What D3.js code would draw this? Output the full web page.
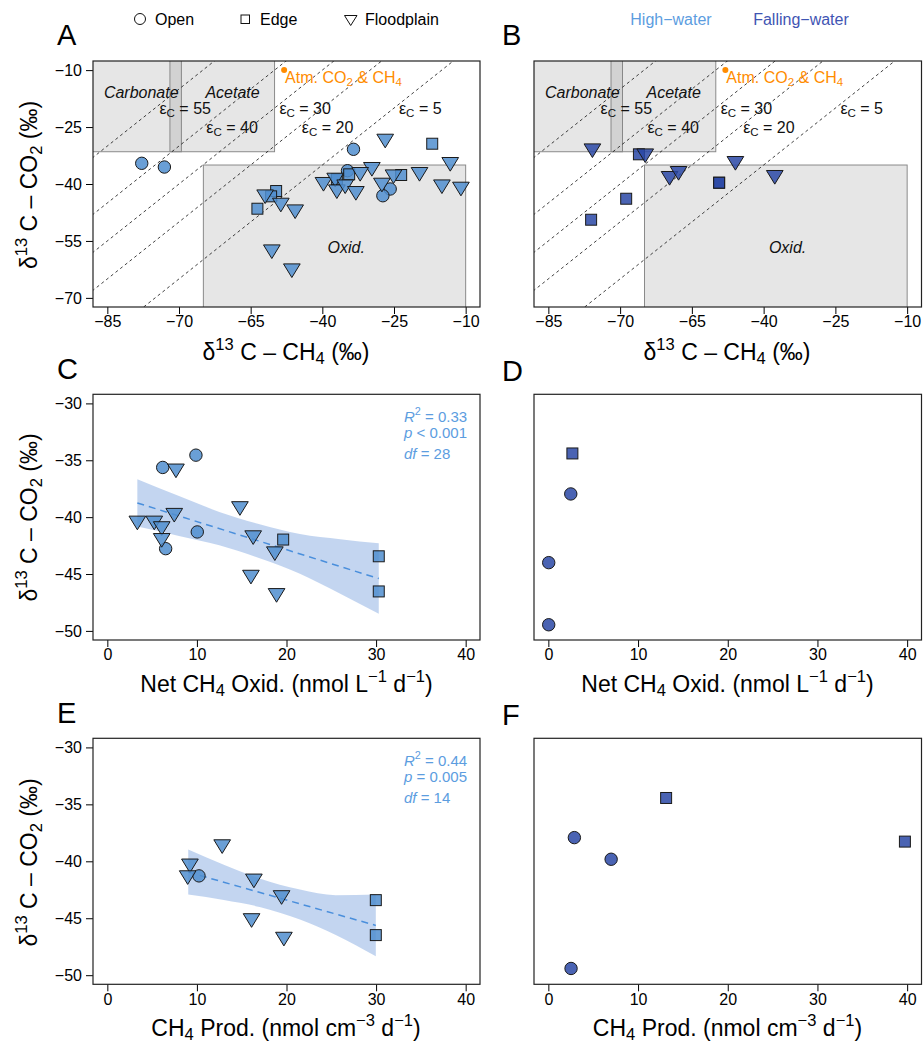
<!DOCTYPE html>
<html>
<head>
<meta charset="utf-8">
<script src="https://cdn.jsdelivr.net/npm/d3@7"></script>
<style>
  body { margin: 0; background: #fff; }
  svg { font-family: "Liberation Sans", Arial, Helvetica, sans-serif; }
</style>
</head>
<body>
<div id="chart"></div>
<script>
// ---- data ----
const isoXTicks = [-85, -70, -55, -40, -25, -10];
const isoXLabels = ['−85', '−70', '−65', '−40', '−25', '−10'];
const isoYTicks = [-10, -25, -40, -55, -70];
const rateXTicks = [0, 10, 20, 30, 40];
const co2YTicks = [-30, -35, -40, -45, -50];

// panel A (high-water), [δ13C-CH4, δ13C-CO2]
const aOpen = [[-77.8, -34.55], [-73.06, -35.53], [-33.48, -30.86], [-34.74, -36.5], [-25.8, -41.32], [-27.33, -43.09]];
const aEdge = [[-17.0, -29.39], [-23.5, -37.63], [-34.38, -37.45], [-36.96, -38.77], [-49.67, -41.85], [-50.72, -43.25], [-53.59, -46.51]];
const aFlood = [[-26.84, -28.68], [-13.23, -34.82], [-29.63, -36.13], [-32.08, -37.45], [-25.1, -38.08], [-19.66, -37.45],
  [-14.97, -40.72], [-10.99, -41.32], [-27.53, -40.27], [-39.76, -40.08], [-37.31, -38.95], [-36.96, -42.03],
  [-35.22, -40.72], [-32.98, -42.46], [-51.97, -43.35], [-48.69, -45.54], [-45.69, -47.3], [-50.57, -57.84], [-46.38, -62.84]];
// panel B (falling-water)
const bEdge = [[-66.07, -32.18], [-49.3, -39.66], [-49.3, -39.66], [-68.73, -43.88], [-76.06, -49.41]];
const bFlood = [[-75.79, -31.23], [-64.75, -32.55], [-59.66, -38.5], [-57.78, -37.19], [-45.9, -34.55], [-37.67, -38.24]];
// panel C / D, [net CH4 oxidation, δ13C-CO2]
const cOpen = [[6.18, -35.63], [9.89, -34.55], [10.04, -41.3], [6.51, -42.77]];
const cEdge = [[19.63, -41.97], [30.3, -43.44], [30.3, -46.53]];
const cFlood = [[3.35, -40.51], [5.24, -40.51], [6.07, -41.0], [6.07, -42.04], [7.66, -35.93], [7.47, -39.83],
  [14.8, -39.24], [16.28, -41.8], [18.7, -43.21], [16.03, -45.27], [18.89, -46.88]];
const dOpen = [[2.5, -37.96], [0.04, -44.0], [0.04, -49.46]];
const dEdge = [[2.68, -34.4]];
// panel E / F, [CH4 production, δ13C-CO2]
const eOpen = [[10.23, -41.28]];
const eEdge = [[29.97, -43.41], [29.97, -46.48]];
const eFlood = [[9.22, -40.4], [8.97, -41.43], [12.82, -38.71], [16.36, -41.72], [19.45, -43.18], [16.1, -45.2], [19.71, -46.83]];
const fOpen = [[2.9, -37.92], [7.0, -39.82], [2.53, -49.41]];
const fEdge = [[13.13, -34.44], [39.75, -38.27]];

// regression fits and confidence bands
const cFit = [[3.35, -38.75], [30.3, -45.4]];
const cBandX = [3.35, 8, 12.5, 17, 21.5, 26, 30.3];
const cBandHi = [-36.67, -38.15, -39.54, -40.62, -41.48, -41.94, -42.3];
const cBandLo = [-40.83, -41.65, -42.48, -43.62, -44.98, -46.74, -48.5];
const eFit = [[9.03, -40.95], [29.97, -45.63]];
const eBandX = [9.03, 13, 17, 21.5, 25.5, 29.97];
const eBandHi = [-38.97, -40.3, -41.51, -42.48, -42.97, -42.92];
const eBandLo = [-42.92, -43.4, -44.01, -45.11, -46.47, -48.33];
const cStats = ['0.33', '< 0.001', '28'];
const eStats = ['0.44', '= 0.005', '14'];

// isotope reference regions [xmin, xmax, ymin, ymax]
const carbBox = [-95, -69.5, -31.5, 0];
const acetBox = [-71.9, -50.0, -31.5, 0];
const oxidBox = [-64.9, -10, -80, -35];
const regionLabels = [['Carbonate', -77.9, -15.8], ['Acetate', -58.8, -15.8], ['Oxid.', -35, -56.6]];
const epsVals = [55, 40, 30, 20, 5];
const epsLabX = [-68.7, -58.9, -43.6, -38.9, -19.5];
const epsLabY = [-20, -25, -20, -25, -20];
const atm = [-48, -10];

// ---- styling ----
const HIGH = '#508ecf', FALL = '#2a48a6';
const HIGH_TXT = '#5c9ddf', FALL_TXT = '#3f55b3';
const colL = { x0: 93, x1: 480 }, colR = { x0: 534, x1: 921.5 };
const rowA = { y0: 61, y1: 307 }, rowC = { y0: 394.3, y1: 640 }, rowE = { y0: 738.3, y1: 984.3 };
const isoX = [-88, -7], isoY = [-72.4, -7.6], rateX = [-1.6, 41.6], co2Y = [-50.8, -29.2];
const R = 6.2;
const TITLE = 23;

const svg = d3.select('#chart').append('svg')
  .attr('width', 923)
  .attr('height', 1043);

let clipN = 0;

// text with super/subscripts: parts = [[text, kind, italic]]
const rich = (sel, parts, size) => {
  let cur = 0;
  parts.forEach(([t, k, it]) => {
    const off = k === 'sup' ? -0.42 * size : k === 'sub' ? 0.2 * size : 0;
    const ts = sel.append('tspan').text(t);
    if (off !== cur) ts.attr('dy', off - cur);
    cur = off;
    if (k === 'sup' || k === 'sub') ts.attr('font-size', size * 0.72);
    if (it) ts.attr('font-style', 'italic');
  });
  return sel;
};

const panel = (col, row, xd, yd, xt, xl, yt) => {
  const x = d3.scaleLinear().domain(xd).range([col.x0, col.x1]);
  const y = d3.scaleLinear().domain(yd).range([row.y1, row.y0]);
  const g = svg.append('g');
  const id = 'clip' + (clipN++);
  g.append('clipPath').attr('id', id).append('rect')
    .attr('x', col.x0).attr('y', row.y0)
    .attr('width', col.x1 - col.x0).attr('height', row.y1 - row.y0);
  const inner = g.append('g').attr('clip-path', `url(#${id})`);

  const xa = g.append('g')
    .attr('transform', `translate(0,${row.y1})`)
    .call(d3.axisBottom(x).tickValues(xt).tickFormat((d, i) => xl[i]).tickSize(7).tickPadding(2));
  xa.select('.domain').remove();
  xa.attr('font-size', 16).attr('font-family', null);
  if (yt) {
    const ya = g.append('g')
      .attr('transform', `translate(${col.x0},0)`)
      .call(d3.axisLeft(y).tickValues(yt).tickFormat(d => d < 0 ? '−' + Math.abs(d) : d).tickSize(7).tickPadding(4));
    ya.select('.domain').remove();
    ya.attr('font-size', 16).attr('font-family', null);
  }
  return { g, inner, x, y, col, row };
};

const frame = (p) => {
  p.g.append('rect')
    .attr('x', p.col.x0).attr('y', p.row.y0)
    .attr('width', p.col.x1 - p.col.x0).attr('height', p.row.y1 - p.row.y0)
    .attr('fill', 'none').attr('stroke', '#222').attr('stroke-width', 1.2);
};

const drawPts = (p, data, shape, fill) => {
  const grp = p.g.append('g')
    .attr('fill', fill).attr('fill-opacity', 0.85)
    .attr('stroke', '#1a1a1a').attr('stroke-width', 1);
  if (shape === 'circle') {
    grp.selectAll('circle').data(data).join('circle')
      .attr('cx', d => p.x(d[0])).attr('cy', d => p.y(d[1])).attr('r', R);
  } else if (shape === 'square') {
    const s = R * 1.77;
    grp.selectAll('rect').data(data).join('rect')
      .attr('x', d => p.x(d[0]) - s / 2).attr('y', d => p.y(d[1]) - s / 2)
      .attr('width', s).attr('height', s);
  } else {
    const w = R * 2.69, h = R * 2.2;
    grp.selectAll('path').data(data).join('path')
      .attr('d', d => {
        const cx = p.x(d[0]), cy = p.y(d[1]);
        return `M${cx - w / 2},${cy - h / 2}L${cx + w / 2},${cy - h / 2}L${cx},${cy + h / 2}Z`;
      });
  }
};

const isoDecor = (p) => {
  const box = (b) => p.inner.append('rect')
    .attr('x', p.x(b[0])).attr('y', p.y(b[3]))
    .attr('width', p.x(b[1]) - p.x(b[0])).attr('height', p.y(b[2]) - p.y(b[3]))
    .attr('fill', '#808080').attr('fill-opacity', 0.2)
    .attr('stroke', '#8a8a8a').attr('stroke-width', 1);
  box(carbBox);
  box(acetBox);
  box(oxidBox);

  p.inner.selectAll('line.eps').data(epsVals).join('line')
    .attr('class', 'eps')
    .attr('x1', p.x(-100)).attr('y1', e => p.y(-100 + e))
    .attr('x2', p.x(0)).attr('y2', e => p.y(e))
    .attr('stroke', '#111').attr('stroke-width', 0.8).attr('stroke-dasharray', '3,3');

  regionLabels.forEach(([t, lx, ly]) => {
    p.g.append('text').attr('x', p.x(lx)).attr('y', p.y(ly)).attr('dy', '0.35em')
      .attr('text-anchor', 'middle').attr('font-size', 16).attr('font-style', 'italic')
      .attr('fill', '#111').text(t);
  });

  epsVals.forEach((e, i) => {
    const t = p.g.append('text').attr('x', p.x(epsLabX[i])).attr('y', p.y(epsLabY[i]) + 5.5)
      .attr('text-anchor', 'middle').attr('font-size', 16).attr('fill', '#111');
    rich(t, [['ε'], ['C', 'sub'], [' = ' + e]], 16);
  });

  p.g.append('circle').attr('cx', p.x(atm[0])).attr('cy', p.y(atm[1])).attr('r', 3).attr('fill', '#ff8c00');
  const at = p.g.append('text').attr('x', p.x(atm[0]) + 1).attr('y', p.y(atm[1]) + 13)
    .attr('font-size', 16).attr('fill', '#ff8c00');
  rich(at, [['Atm. CO'], ['2', 'sub'], [' & CH'], ['4', 'sub']], 16);
};

const fitDecor = (p, bx, hi, lo, fit, stats, statY) => {
  const area = d3.area()
    .x((d, i) => p.x(bx[i]))
    .y0((d, i) => p.y(lo[i]))
    .y1((d, i) => p.y(hi[i]))
    .curve(d3.curveMonotoneX);
  p.inner.append('path').attr('d', area(bx)).attr('fill', '#4a7fd0').attr('fill-opacity', 0.33);
  p.inner.append('line')
    .attr('x1', p.x(fit[0][0])).attr('y1', p.y(fit[0][1]))
    .attr('x2', p.x(fit[1][0])).attr('y2', p.y(fit[1][1]))
    .attr('stroke', '#4a8fdc').attr('stroke-width', 1.5).attr('stroke-dasharray', '7,5');
  const lines = [
    [['R', null, true], ['2', 'sup'], [' = ' + stats[0]]],
    [['p', null, true], [' ' + stats[1]]],
    [['df', null, true], [' = ' + stats[2]]]
  ];
  lines.forEach((parts, i) => {
    const t = p.g.append('text').attr('x', 404).attr('y', statY[i])
      .attr('font-size', 15).attr('fill', HIGH_TXT);
    rich(t, parts, 15);
  });
};

const xTitle = (cx, y, parts) => {
  rich(svg.append('text').attr('x', cx).attr('y', y).attr('text-anchor', 'middle').attr('font-size', TITLE), parts, TITLE);
};
const yTitle = (cy) => {
  const t = svg.append('text').attr('transform', `translate(37,${cy}) rotate(-90)`)
    .attr('text-anchor', 'middle').attr('font-size', TITLE);
  rich(t, [['δ'], ['13', 'sup'], [' C – CO'], ['2', 'sub'], [' (‰)']], TITLE);
};
const letter = (t, x, y) => svg.append('text').attr('x', x).attr('y', y).attr('font-size', 29).text(t);

// ---- legends ----
const leg = svg.append('g').attr('font-size', 16);
leg.append('circle').attr('cx', 140).attr('cy', 19).attr('r', 5.5).attr('fill', 'none').attr('stroke', '#111');
leg.append('text').attr('x', 155).attr('y', 25).text('Open');
leg.append('rect').attr('x', 241).attr('y', 15).attr('width', 8.5).attr('height', 8.5).attr('fill', 'none').attr('stroke', '#111');
leg.append('text').attr('x', 260).attr('y', 25).text('Edge');
leg.append('path').attr('d', 'M344.5,15.5L357,15.5L350.7,25.5Z').attr('fill', 'none').attr('stroke', '#111');
leg.append('text').attr('x', 365).attr('y', 25).text('Floodplain');
leg.append('text').attr('x', 671).attr('y', 25).attr('text-anchor', 'middle').attr('fill', HIGH_TXT).text('High−water');
leg.append('text').attr('x', 801).attr('y', 25).attr('text-anchor', 'middle').attr('fill', FALL_TXT).text('Falling−water');

// ---- panels ----
const pA = panel(colL, rowA, isoX, isoY, isoXTicks, isoXLabels, isoYTicks);
isoDecor(pA);
drawPts(pA, aOpen, 'circle', HIGH);
drawPts(pA, aEdge, 'square', HIGH);
drawPts(pA, aFlood, 'tri', HIGH);
frame(pA);

const pB = panel(colR, rowA, isoX, isoY, isoXTicks, isoXLabels, null);
isoDecor(pB);
drawPts(pB, bEdge, 'square', FALL);
drawPts(pB, bFlood, 'tri', FALL);
frame(pB);

const rateLabels = rateXTicks.map(String);
const pC = panel(colL, rowC, rateX, co2Y, rateXTicks, rateLabels, co2YTicks);
fitDecor(pC, cBandX, cBandHi, cBandLo, cFit, cStats, [421.7, 438.3, 459]);
drawPts(pC, cOpen, 'circle', HIGH);
drawPts(pC, cEdge, 'square', HIGH);
drawPts(pC, cFlood, 'tri', HIGH);
frame(pC);

const pD = panel(colR, rowC, rateX, co2Y, rateXTicks, rateLabels, null);
drawPts(pD, dOpen, 'circle', FALL);
drawPts(pD, dEdge, 'square', FALL);
frame(pD);

const pE = panel(colL, rowE, rateX, co2Y, rateXTicks, rateLabels, co2YTicks);
fitDecor(pE, eBandX, eBandHi, eBandLo, eFit, eStats, [765.7, 781.7, 802.5]);
drawPts(pE, eOpen, 'circle', HIGH);
drawPts(pE, eEdge, 'square', HIGH);
drawPts(pE, eFlood, 'tri', HIGH);
frame(pE);

const pF = panel(colR, rowE, rateX, co2Y, rateXTicks, rateLabels, null);
drawPts(pF, fOpen, 'circle', FALL);
drawPts(pF, fEdge, 'square', FALL);
frame(pF);

// ---- titles and letters ----
const isoTitle = [['δ'], ['13', 'sup'], [' C – CH'], ['4', 'sub'], [' (‰)']];
xTitle(286, 359.5, isoTitle);
xTitle(727, 359.5, isoTitle);
const oxTitle = [['Net CH'], ['4', 'sub'], [' Oxid. (nmol L'], ['−1', 'sup'], [' d'], ['−1', 'sup'], [')']];
xTitle(286.5, 691.5, oxTitle);
xTitle(727.5, 691.5, oxTitle);
const prTitle = [['CH'], ['4', 'sub'], [' Prod. (nmol cm'], ['−3', 'sup'], [' d'], ['−1', 'sup'], [')']];
xTitle(286, 1035.5, prTitle);
xTitle(727.5, 1035.5, prTitle);
yTitle(185);
yTitle(517.5);
yTitle(862.5);

letter('A', 57, 45);
letter('B', 502, 45);
letter('C', 57, 379);
letter('D', 502, 381);
letter('E', 57, 723);
letter('F', 502, 725);
</script>
</body>
</html>
